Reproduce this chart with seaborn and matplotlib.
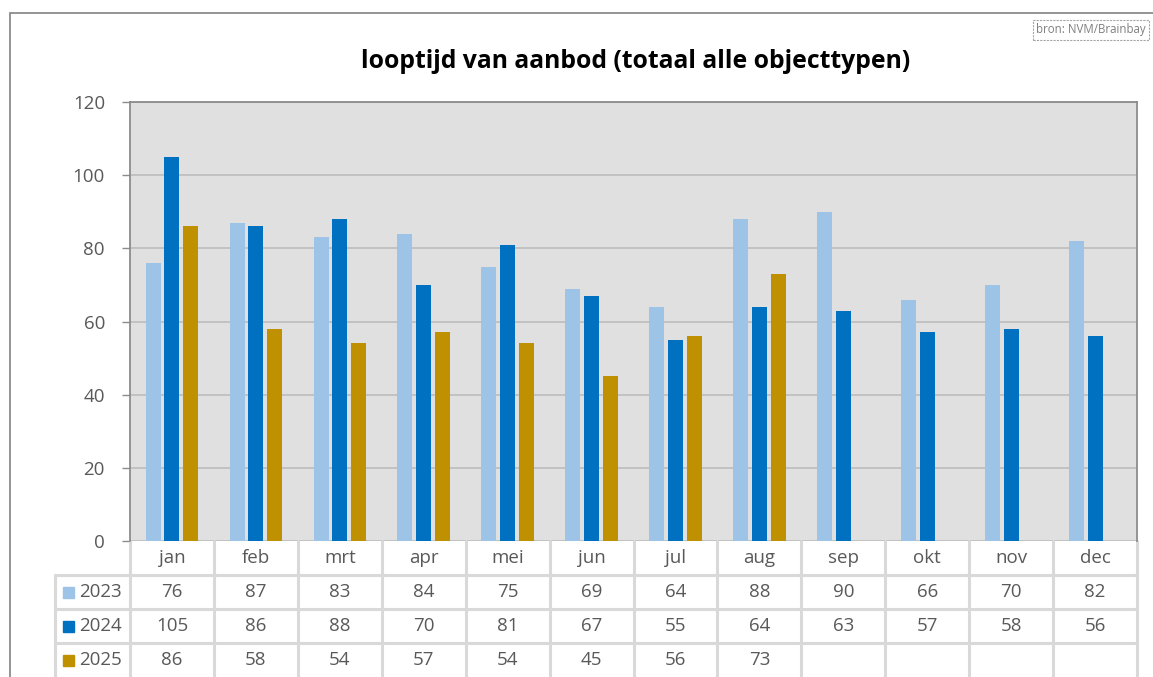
import numpy as np
import matplotlib.pyplot as plt
import pandas as pd
import seaborn as sns
from matplotlib.transforms import blended_transform_factory
from matplotlib.patches import Rectangle

months = ['jan', 'feb', 'mrt', 'apr', 'mei', 'jun', 'jul', 'aug', 'sep', 'okt', 'nov', 'dec']
years = ['2023', '2024', '2025']
v2023 = [76, 87, 83, 84, 75, 69, 64, 88, 90, 66, 70, 82]
v2024 = [105, 86, 88, 70, 81, 67, 55, 64, 63, 57, 58, 56]
v2025 = [86, 58, 54, 57, 54, 45, 56, 73, None, None, None, None]
colors = ['#9DC3E6', '#0070C0', '#BF9000']
yticks = [0, 20, 40, 60, 80, 100, 120]

rows = []
for yr, vals in zip(years, [v2023, v2024, v2025]):
    for m, v in zip(months, vals):
        rows.append({'maand': m, 'jaar': yr, 'dagen': v})
df = pd.DataFrame(rows)

sns.set_style('white')
plt.rcParams['font.family'] = ['Open Sans', 'DejaVu Sans']
txt = '#595959'

W, H = 1153, 677
fig = plt.figure(figsize=(W / 100, H / 100), dpi=100)
L, R, T, B = 130, 1137, 102, 541
ax = fig.add_axes([L / W, 1 - B / H, (R - L) / W, (B - T) / H])
ax.set_facecolor('#E0E0E0')

sns.barplot(data=df, x='maand', y='dagen', hue='jaar', palette=colors, order=months,
            width=0.67, gap=0.2, saturation=1, ax=ax, legend=False, zorder=3,
            linewidth=0)

ax.set_xlim(-0.5, 11.5)
ax.set_ylim(0, 120)
ax.set_yticks(yticks)
ax.set_yticklabels([str(t) for t in yticks], fontsize=13.5, color=txt)
ax.set_xticks([])
ax.set_xlabel('')
ax.set_ylabel('')
ax.grid(axis='y', color='#BFBFBF', linewidth=1.3, zorder=0)
ax.set_axisbelow(True)
for side in ['top', 'right', 'left']:
    ax.spines[side].set_color('#8C8C8C')
    ax.spines[side].set_linewidth(1.3)
ax.spines['bottom'].set_visible(False)
ax.tick_params(axis='y', length=6, width=1, color='#8C8C8C', pad=12, left=True)

# data table below the plot
tr = blended_transform_factory(ax.transData, fig.transFigure)
row_h = 34
line_kw = dict(color='#D9D9D9', linewidth=2.2, clip_on=False)

def fy(py):
    return 1 - py / H

for k in range(13):
    ax.plot([k - 0.5, k - 0.5], [fy(B), fy(H + 5)], transform=tr, **line_kw)
for r in range(1, 4):
    yline = B + r * row_h
    fig.add_artist(plt.Line2D([55 / W, R / W], [fy(yline), fy(yline)], **line_kw))
fig.add_artist(plt.Line2D([55 / W, 55 / W], [fy(B + row_h), fy(H + 5)], **line_kw))

for i, m in enumerate(months):
    ax.text(i, fy(B + row_h / 2), m, transform=tr, ha='center', va='center',
            fontsize=13.5, color=txt)

for r, (yr, vals) in enumerate(zip(years, [v2023, v2024, v2025])):
    yc = fy(B + row_h * (r + 1.5))
    fig.add_artist(Rectangle((63 / W, yc - 5.5 / H), 11 / W, 11 / H,
                             transform=fig.transFigure, color=colors[r]))
    fig.text(79 / W, yc, yr, ha='left', va='center', fontsize=13.5, color=txt)
    for i, v in enumerate(vals):
        if v is not None:
            ax.text(i, yc, str(v), transform=tr, ha='center', va='center',
                    fontsize=13.5, color=txt)

# title, outer frame, source box
fig.text(636 / W, fy(61), 'looptijd van aanbod (totaal alle objecttypen)',
         ha='center', va='center', fontsize=17.8, fontweight='bold', color='black')
fig.add_artist(Rectangle((10 / W, -0.1), 1.2, fy(13) + 0.1, transform=fig.transFigure,
                         fill=False, edgecolor='#8C8C8C', linewidth=1.3))
fig.text(1146 / W, fy(30), 'bron: NVM/Brainbay', ha='right', va='center', fontsize=8.3,
         color='#7F7F7F',
         bbox=dict(boxstyle='square,pad=0.3', facecolor='white', edgecolor='#A6A6A6',
                   linestyle=(0, (2, 1)), linewidth=0.8))

fig.savefig('out.png', dpi=100)
